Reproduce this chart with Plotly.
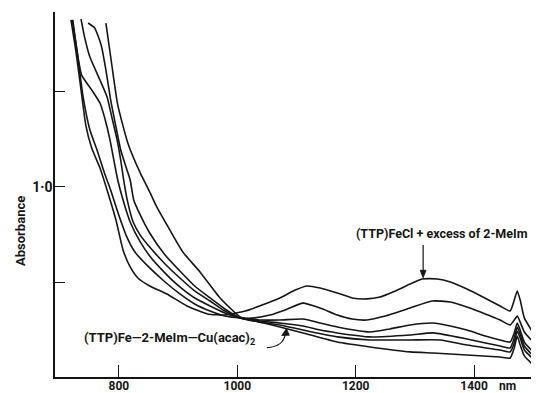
import plotly.graph_objects as go

# Wavelength (nm) and absorbance for the six spectra
nm_A = [719, 727, 736, 744, 754, 768, 781, 795, 807, 819, 832, 852, 881, 915, 950, 979, 1013, 1042, 1072, 1098,
        1118, 1140, 1169, 1194, 1219, 1241, 1267, 1292, 1312, 1338, 1360, 1388, 1415, 1444, 1461, 1468, 1473,
        1478, 1485, 1500]
abs_A = [1.879, 1.721, 1.511, 1.326, 1.205, 1.100, 0.974, 0.826, 0.668, 0.579, 0.521, 0.479, 0.437, 0.374, 0.332,
         0.326, 0.347, 0.379, 0.416, 0.458, 0.479, 0.468, 0.442, 0.416, 0.411, 0.421, 0.453, 0.489, 0.516, 0.516,
         0.500, 0.463, 0.421, 0.374, 0.347, 0.405, 0.453, 0.405, 0.311, 0.232]

nm_B = [721, 729, 739, 751, 763, 775, 786, 798, 812, 827, 852, 878, 903, 928, 954, 979, 1005, 1030, 1055, 1081,
        1111, 1140, 1169, 1194, 1219, 1250, 1292, 1329, 1360, 1388, 1419, 1444, 1461, 1468, 1473, 1478, 1485, 1500]
abs_B = [1.879, 1.721, 1.484, 1.300, 1.195, 1.079, 0.984, 0.868, 0.747, 0.658, 0.574, 0.500, 0.437, 0.384, 0.347,
         0.321, 0.311, 0.311, 0.326, 0.353, 0.389, 0.363, 0.326, 0.305, 0.300, 0.321, 0.363, 0.400, 0.395, 0.368,
         0.332, 0.300, 0.274, 0.300, 0.321, 0.289, 0.237, 0.184]

nm_C = [722, 729, 737, 754, 768, 776, 785, 792, 798, 807, 819, 836, 852, 878, 903, 928, 954, 979, 1005, 1038,
        1072, 1111, 1140, 1169, 1224, 1258, 1292, 1331, 1360, 1388, 1419, 1444, 1461, 1468, 1473, 1478, 1485, 1500]
abs_C = [1.879, 1.721, 1.589, 1.511, 1.442, 1.363, 1.247, 1.132, 1.037, 0.932, 0.816, 0.711, 0.637, 0.547, 0.474,
         0.416, 0.374, 0.337, 0.311, 0.300, 0.300, 0.305, 0.284, 0.263, 0.237, 0.253, 0.274, 0.284, 0.268, 0.247,
         0.216, 0.195, 0.184, 0.232, 0.284, 0.247, 0.184, 0.132]

nm_D = [736, 742, 751, 768, 780, 788, 797, 803, 808, 814, 824, 836, 852, 878, 903, 928, 954, 979, 1005, 1038,
        1072, 1111, 1140, 1169, 1224, 1292, 1331, 1388, 1444, 1461, 1468, 1473, 1478, 1485, 1500]
abs_D = [1.884, 1.789, 1.684, 1.563, 1.474, 1.368, 1.247, 1.142, 1.037, 0.932, 0.816, 0.747, 0.684, 0.595, 0.521,
         0.453, 0.400, 0.347, 0.311, 0.295, 0.284, 0.268, 0.247, 0.232, 0.211, 0.221, 0.232, 0.200, 0.163, 0.153,
         0.205, 0.263, 0.226, 0.163, 0.111]

nm_E = [748, 759, 770, 778, 786, 795, 803, 812, 819, 825, 836, 852, 878, 903, 928, 954, 979, 1005, 1038, 1072,
        1111, 1169, 1224, 1292, 1343, 1388, 1444, 1461, 1468, 1473, 1478, 1485, 1500]
abs_E = [1.863, 1.837, 1.747, 1.616, 1.458, 1.316, 1.195, 1.105, 1.037, 0.932, 0.853, 0.758, 0.642, 0.558, 0.479,
         0.416, 0.358, 0.311, 0.289, 0.274, 0.247, 0.211, 0.195, 0.195, 0.195, 0.168, 0.142, 0.132, 0.179, 0.242,
         0.205, 0.142, 0.095]

nm_F = [778, 788, 798, 815, 836, 852, 864, 886, 908, 937, 971, 1005, 1038, 1072, 1111, 1169, 1224, 1292, 1331,
        1388, 1444, 1461, 1468, 1473, 1478, 1485, 1500]
abs_F = [1.863, 1.642, 1.432, 1.232, 1.074, 0.974, 0.895, 0.774, 0.658, 0.553, 0.416, 0.316, 0.289, 0.263, 0.232,
         0.184, 0.158, 0.132, 0.126, 0.116, 0.105, 0.100, 0.153, 0.216, 0.168, 0.111, 0.063]

x_ticks = [800, 1000, 1200, 1400]
x_tick_labels = ["800", "1000", "1200", "1400"]
y_label_ticks = [1.0]
y_tick_labels = ["1·0"]

FONT = "Roboto, Liberation Sans, sans-serif"
INK = "#151515"

fig = go.Figure()
for xs, ys in [(nm_A, abs_A), (nm_B, abs_B), (nm_C, abs_C), (nm_D, abs_D), (nm_E, abs_E), (nm_F, abs_F)]:
    fig.add_trace(go.Scatter(x=xs, y=ys, mode="lines",
                             line=dict(color=INK, width=1.6, shape="spline", smoothing=0.5),
                             hoverinfo="skip", showlegend=False))

lbl = dict(family=FONT, size=12.5, color=INK, weight="bold")

# the page body has an 8 px margin, so the figure is made 8 px smaller each way
fig.update_layout(
    width=531, height=385,
    margin=dict(l=47, r=4, t=4, b=16, autoexpand=False),
    paper_bgcolor="white", plot_bgcolor="white",
    font=dict(family=FONT, size=12, color=INK),
    xaxis=dict(range=[692, 1503], showline=True, linecolor=INK, linewidth=1.5,
               ticks="inside", ticklen=12, tickwidth=1.3, tickcolor=INK,
               tickvals=x_ticks, ticktext=x_tick_labels, showgrid=False, zeroline=False,
               ticklabelstandoff=-3,
               tickfont=dict(family=FONT, size=12, color=INK, weight="bold")),
    yaxis=dict(range=[0, 1.921], showline=True, linecolor=INK, linewidth=1.5,
               ticks="inside", ticklen=10, tickwidth=1.3, tickcolor=INK,
               tickvals=y_label_ticks, ticktext=y_tick_labels, showgrid=False, zeroline=False,
               ticklabelstandoff=-2,
               minor=dict(dtick=0.5, tick0=0, ticks="inside", ticklen=10, tickwidth=1.3, tickcolor=INK),
               tickfont=dict(family=FONT, size=14, color=INK, weight="bold")),
    annotations=[
        dict(text="Absorbance", xref="paper", yref="paper", x=-0.073, y=0.40, textangle=-90,
             showarrow=False, font=dict(family=FONT, size=13, color=INK, weight="bold"),
             xanchor="center", yanchor="middle"),
        dict(text="nm", xref="x", yref="paper", x=1457, y=0.0, yshift=-9, showarrow=False,
             font=dict(family=FONT, size=12, color=INK, weight="bold"), xanchor="center", yanchor="middle"),
        dict(text="(TTP)FeCl + excess of 2-MeIm", xref="x", yref="y", x=1346, y=0.755,
             showarrow=False, font=lbl, xanchor="center", yanchor="middle"),
        dict(text="(TTP)Fe—2-MeIm—Cu(acac)<sub>2</sub>", xref="x", yref="y", x=886, y=0.205,
             showarrow=False, font=dict(family=FONT, size=13, color=INK, weight="bold"),
             xanchor="center", yanchor="middle"),
    ],
    shapes=[
        # straight arrow to the top curve
        dict(type="line", xref="x", yref="y", x0=1314, x1=1314, y0=0.695, y1=0.55,
             line=dict(color=INK, width=1.2)),
        dict(type="path", xref="x", yref="y", path="M 1309,0.562 L 1319,0.562 L 1314,0.522 Z",
             fillcolor=INK, line=dict(color=INK, width=0.8)),
        # curved arrow from the lower label
        dict(type="path", xref="x", yref="y", path="M 1050,0.155 Q 1078,0.160 1081,0.225",
             line=dict(color=INK, width=1.2)),
        dict(type="path", xref="x", yref="y", path="M 1075,0.218 L 1088,0.220 L 1083,0.255 Z",
             fillcolor=INK, line=dict(color=INK, width=0.8)),
    ],
)

fig.write_html("out.html")
